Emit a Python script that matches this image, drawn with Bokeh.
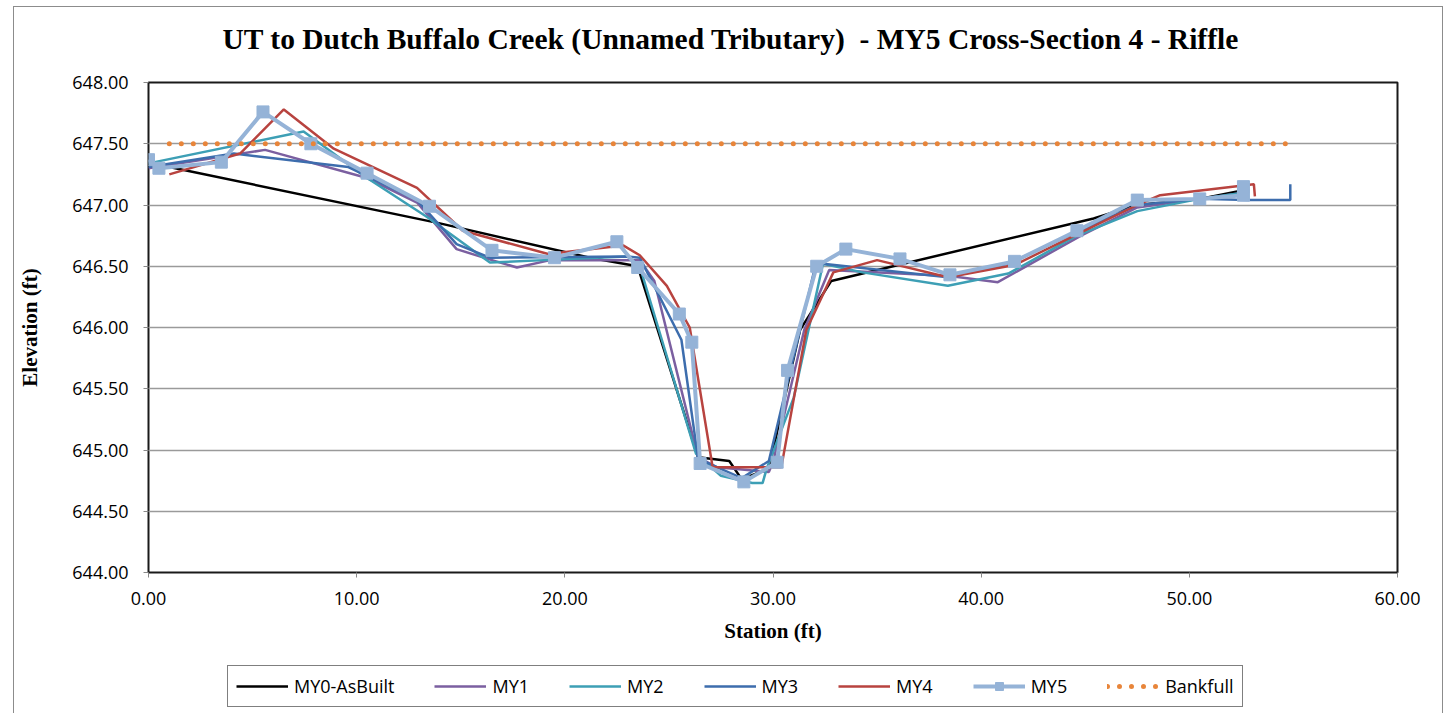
from bokeh.plotting import figure
from bokeh.layouts import column
from bokeh.models import Legend, LegendItem, FixedTicker, NumeralTickFormatter, Range1d, Title
from bokeh.embed import file_html
from bokeh.resources import INLINE

title_text = "UT to Dutch Buffalo Creek (Unnamed Tributary)\u00a0 - MY5 Cross-Section 4 - Riffle"
x_label = "Station (ft)"
y_label = "Elevation (ft)"
x_ticks = [0, 10, 20, 30, 40, 50, 60]
y_ticks = [644.0, 644.5, 645.0, 645.5, 646.0, 646.5, 647.0, 647.5, 648.0]
series_names = ["MY0-AsBuilt", "MY1", "MY2", "MY3", "MY4", "MY5", "Bankfull"]

my0_st = [0.0, 1.0, 14.0, 21.2, 23.5, 26.4, 27.9, 28.5, 29.8, 31.3, 32.8, 45.4, 47.5, 50.5, 52.6]
my0_el = [647.33, 647.31, 646.85, 646.57, 646.50, 644.94, 644.91, 644.76, 644.85, 645.98, 646.38, 646.89, 647.00, 647.05, 647.12]

my1_st = [0.0, 5.6, 10.5, 12.9, 14.8, 16.3, 17.7, 19.3, 23.6, 24.3, 26.4, 27.3, 29.8, 30.0, 31.5, 32.7, 38.5, 40.8, 44.8, 47.5, 50.5, 52.6]
my1_el = [647.30, 647.45, 647.22, 647.02, 646.64, 646.56, 646.49, 646.55, 646.55, 646.38, 644.94, 644.86, 644.82, 644.90, 645.98, 646.47, 646.42, 646.37, 646.75, 646.98, 647.05, 647.10]

my2_st = [0.0, 7.45, 10.5, 13.4, 16.4, 19.0, 23.0, 23.6, 26.3, 27.5, 29.0, 29.5, 29.7, 31.0, 32.4, 34.3, 38.4, 41.3, 44.6, 47.5, 50.5, 52.6]
my2_el = [647.34, 647.60, 647.22, 646.90, 646.53, 646.55, 646.58, 646.50, 644.97, 644.79, 644.73, 644.73, 644.85, 645.43, 646.52, 646.45, 646.34, 646.44, 646.75, 646.95, 647.05, 647.10]

my3_st = [0.0, 4.1, 9.6, 12.9, 14.8, 16.4, 23.0, 23.6, 25.6, 26.4, 27.3, 28.5, 29.8, 32.0, 32.4, 38.4, 41.3, 44.6, 47.5, 50.5, 52.8, 54.85, 54.85]
my3_el = [647.31, 647.42, 647.31, 647.04, 646.68, 646.57, 646.58, 646.57, 645.90, 644.93, 644.86, 644.77, 644.91, 646.48, 646.52, 646.41, 646.52, 646.78, 647.00, 647.05, 647.04, 647.04, 647.17]

my4_st = [1.0, 4.4, 6.5, 8.9, 12.9, 15.1, 19.2, 22.8, 23.6, 24.9, 26.0, 27.1, 29.5, 30.4, 31.6, 32.9, 35.0, 38.4, 41.6, 44.6, 47.5, 48.6, 53.1, 53.15]
my4_el = [647.25, 647.42, 647.78, 647.46, 647.14, 646.79, 646.60, 646.67, 646.59, 646.34, 646.00, 644.86, 644.86, 644.86, 645.98, 646.45, 646.55, 646.41, 646.51, 646.76, 647.00, 647.08, 647.17, 647.07]

my5_st = [0.0, 0.5, 3.5, 5.5, 7.8, 10.5, 13.5, 16.5, 19.5, 22.5, 23.5, 25.5, 26.1, 26.5, 28.6, 30.2, 30.7, 32.1, 33.5, 36.1, 38.5, 41.6, 44.6, 47.5, 50.5, 52.6, 52.6]
my5_el = [647.37, 647.30, 647.35, 647.76, 647.50, 647.26, 646.99, 646.63, 646.57, 646.70, 646.49, 646.11, 645.88, 644.89, 644.74, 644.90, 645.65, 646.50, 646.64, 646.56, 646.43, 646.54, 646.79, 647.04, 647.05, 647.08, 647.15]

bank_st = [1.0, 54.85]
bank_el = [647.50, 647.50]

series_data = {
    "MY0-AsBuilt": (my0_st, my0_el), "MY1": (my1_st, my1_el), "MY2": (my2_st, my2_el),
    "MY3": (my3_st, my3_el), "MY4": (my4_st, my4_el), "MY5": (my5_st, my5_el),
    "Bankfull": (bank_st, bank_el),
}
colors = {"MY0-AsBuilt": "black", "MY1": "#7B5FA0", "MY2": "#3D9FB5", "MY3": "#3D6DAD",
          "MY4": "#B8433F", "MY5": "#95B3D7", "Bankfull": "#E8853A"}


def draw_series(fig, name):
    xs, ys = series_data[name]
    c = colors[name]
    if name == "MY5":
        a = fig.line(xs, ys, line_color=c, line_width=4)
        b = fig.scatter(xs, ys, marker="square", size=12, fill_color=c, line_color=c)
        return [a, b]
    if name == "Bankfull":
        return [fig.line(xs, ys, line_color=c, line_width=5, line_dash="0 12", line_cap="round")]
    return [fig.line(xs, ys, line_color=c, line_width=2.5)]


# ---------------- main chart ----------------
p = figure(width=1428, height=643, x_range=Range1d(0, 60), y_range=Range1d(644, 648),
           output_backend="svg", toolbar_location=None,
           min_border_left=134, min_border_right=45, min_border_top=75, min_border_bottom=78)

p.title.text = title_text
p.title.align = "left"
p.title.offset = 74
p.title.text_font = "Liberation Serif"
p.title.text_font_style = "bold"
p.title.text_font_size = "29.5px"
p.title.text_color = "black"
p.title.standoff = 10
# spacer between title and plot frame
p.add_layout(Title(text=" ", text_font_size="1px", standoff=20), "above")

p.outline_line_color = "#1a1a1a"
p.outline_line_width = 2
p.background_fill_color = "white"
p.border_fill_color = "white"

p.xgrid.grid_line_color = None
p.ygrid.grid_line_color = "#9a9a9a"
p.ygrid.grid_line_width = 1.5

p.xaxis.ticker = FixedTicker(ticks=x_ticks)
p.yaxis.ticker = FixedTicker(ticks=y_ticks)
for ax in (p.xaxis[0], p.yaxis[0]):
    ax.formatter = NumeralTickFormatter(format="0.00")
    ax.axis_line_color = None
    ax.major_tick_line_color = "#888888"
    ax.major_tick_in = 0
    ax.major_tick_out = 5
    ax.minor_tick_line_color = None
    ax.major_label_text_font = "Open Sans"
    ax.major_label_text_font_size = "18px"
    ax.major_label_text_color = "black"
    ax.axis_label_text_font = "Liberation Serif"
    ax.axis_label_text_font_style = "bold"
    ax.axis_label_text_font_size = "21px"
    ax.axis_label_text_color = "black"
p.xaxis.axis_label = x_label
p.yaxis.axis_label = y_label
p.xaxis.major_label_standoff = 14
p.yaxis.major_label_standoff = 15
p.xaxis.axis_label_standoff = 11
p.yaxis.axis_label_standoff = 27

for name in series_names:
    draw_series(p, name)

# ---------------- legend strip below (its own view is out of the data's range) ----------------
lf = figure(width=1428, height=63, x_range=Range1d(0, 1), y_range=Range1d(0, 1),
            output_backend="svg", toolbar_location=None,
            x_axis_location=None, y_axis_location=None,
            min_border_left=0, min_border_right=0, min_border_top=0, min_border_bottom=0)
lf.outline_line_color = None
lf.background_fill_color = "white"
lf.border_fill_color = "white"
lf.xgrid.visible = False
lf.ygrid.visible = False

items = [LegendItem(label=name, renderers=draw_series(lf, name)) for name in series_names]

legend = Legend(items=items, orientation="horizontal", location=(79, 6))
legend.border_line_color = "black"
legend.border_line_width = 1
legend.background_fill_color = "white"
legend.background_fill_alpha = 1
legend.label_text_font = "Open Sans"
legend.label_text_font_size = "18px"
legend.label_text_color = "black"
legend.glyph_width = 52
legend.glyph_height = 20
legend.label_height = 20
legend.spacing = 40
legend.padding = 8
legend.margin = 0
legend.label_standoff = 6
lf.add_layout(legend)

layout = column(p, lf, spacing=0,
                styles={"border-top": "1px solid #8c8c8c", "border-left": "1px solid #8c8c8c",
                        "border-right": "1px solid #8c8c8c"})
layout.margin = (6, 0, 0, 13)

open("out.html", "w").write(file_html(layout, INLINE))
